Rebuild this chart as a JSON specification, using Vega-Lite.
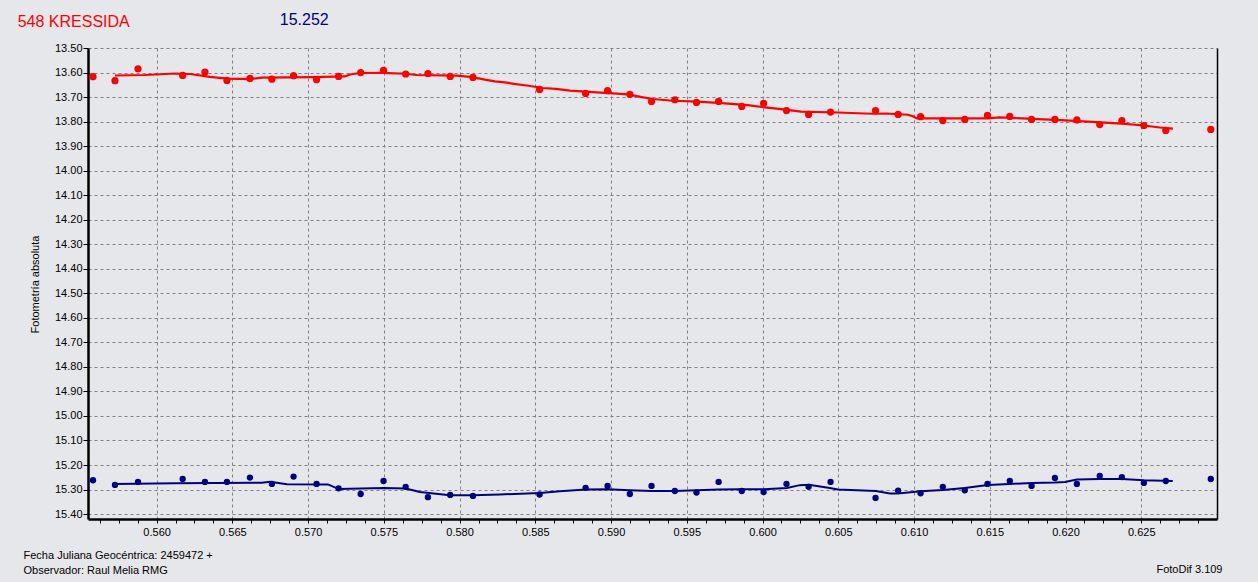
{
  "$schema": "https://vega.github.io/schema/vega-lite/v6.json",
  "width": 1129,
  "height": 471,
  "autosize": {"type": "none"},
  "padding": {"left": 88, "top": 48, "right": 41, "bottom": 63},
  "background": "#e6e7ea",
  "config": {"view": {"stroke": null}, "font": "Liberation Sans"},
  "title": {"text": "548 KRESSIDA", "color": "#ff0000", "font": "Liberation Sans", "fontSize": 16, "fontWeight": "normal", "anchor": "start", "frame": "group", "dx": -70.3, "baseline": "middle", "offset": -26.5},
  "datasets": {
    "red": [
      {"jd": 0.5558, "mag": 13.617}, {"jd": 0.55725, "mag": 13.633}, {"jd": 0.55877, "mag": 13.585}, {"jd": 0.56172, "mag": 13.612},
      {"jd": 0.56319, "mag": 13.598}, {"jd": 0.56464, "mag": 13.632}, {"jd": 0.56616, "mag": 13.624}, {"jd": 0.56761, "mag": 13.627},
      {"jd": 0.56904, "mag": 13.613}, {"jd": 0.57056, "mag": 13.629}, {"jd": 0.57201, "mag": 13.616}, {"jd": 0.57347, "mag": 13.600},
      {"jd": 0.57498, "mag": 13.591}, {"jd": 0.57644, "mag": 13.606}, {"jd": 0.57791, "mag": 13.604}, {"jd": 0.57938, "mag": 13.616},
      {"jd": 0.58088, "mag": 13.620}, {"jd": 0.58528, "mag": 13.669}, {"jd": 0.58832, "mag": 13.685}, {"jd": 0.58977, "mag": 13.674},
      {"jd": 0.59124, "mag": 13.689}, {"jd": 0.59267, "mag": 13.718}, {"jd": 0.59421, "mag": 13.711}, {"jd": 0.59564, "mag": 13.722},
      {"jd": 0.59710, "mag": 13.718}, {"jd": 0.59863, "mag": 13.738}, {"jd": 0.60007, "mag": 13.726}, {"jd": 0.60158, "mag": 13.755},
      {"jd": 0.60304, "mag": 13.771}, {"jd": 0.60449, "mag": 13.761}, {"jd": 0.60746, "mag": 13.755}, {"jd": 0.60895, "mag": 13.771},
      {"jd": 0.61043, "mag": 13.780}, {"jd": 0.61190, "mag": 13.796}, {"jd": 0.61335, "mag": 13.791}, {"jd": 0.61485, "mag": 13.775},
      {"jd": 0.61632, "mag": 13.779}, {"jd": 0.61776, "mag": 13.791}, {"jd": 0.61930, "mag": 13.791}, {"jd": 0.62075, "mag": 13.793},
      {"jd": 0.62226, "mag": 13.812}, {"jd": 0.62372, "mag": 13.796}, {"jd": 0.62517, "mag": 13.816}, {"jd": 0.62662, "mag": 13.836},
      {"jd": 0.62959, "mag": 13.832}
    ],
    "blue": [
      {"jd": 0.5558, "mag": 15.262}, {"jd": 0.55725, "mag": 15.281}, {"jd": 0.55877, "mag": 15.269}, {"jd": 0.56172, "mag": 15.257},
      {"jd": 0.56319, "mag": 15.269}, {"jd": 0.56464, "mag": 15.269}, {"jd": 0.56616, "mag": 15.251}, {"jd": 0.56761, "mag": 15.277},
      {"jd": 0.56904, "mag": 15.247}, {"jd": 0.57056, "mag": 15.277}, {"jd": 0.57201, "mag": 15.295}, {"jd": 0.57347, "mag": 15.318},
      {"jd": 0.57498, "mag": 15.265}, {"jd": 0.57644, "mag": 15.289}, {"jd": 0.57791, "mag": 15.331}, {"jd": 0.57938, "mag": 15.322},
      {"jd": 0.58088, "mag": 15.326}, {"jd": 0.58528, "mag": 15.320}, {"jd": 0.58832, "mag": 15.293}, {"jd": 0.58977, "mag": 15.285},
      {"jd": 0.59124, "mag": 15.318}, {"jd": 0.59267, "mag": 15.285}, {"jd": 0.59421, "mag": 15.306}, {"jd": 0.59564, "mag": 15.312},
      {"jd": 0.59710, "mag": 15.269}, {"jd": 0.59863, "mag": 15.306}, {"jd": 0.60007, "mag": 15.310}, {"jd": 0.60158, "mag": 15.277},
      {"jd": 0.60304, "mag": 15.289}, {"jd": 0.60449, "mag": 15.269}, {"jd": 0.60746, "mag": 15.334}, {"jd": 0.60895, "mag": 15.304},
      {"jd": 0.61043, "mag": 15.315}, {"jd": 0.61190, "mag": 15.289}, {"jd": 0.61335, "mag": 15.303}, {"jd": 0.61485, "mag": 15.277},
      {"jd": 0.61632, "mag": 15.265}, {"jd": 0.61776, "mag": 15.285}, {"jd": 0.61930, "mag": 15.253}, {"jd": 0.62075, "mag": 15.277},
      {"jd": 0.62226, "mag": 15.244}, {"jd": 0.62372, "mag": 15.249}, {"jd": 0.62517, "mag": 15.273}, {"jd": 0.62662, "mag": 15.265},
      {"jd": 0.62959, "mag": 15.257}
    ],
    "redFit": [
      {"jd": 0.55725, "mag": 13.612}, {"jd": 0.55923, "mag": 13.610}, {"jd": 0.56022, "mag": 13.607}, {"jd": 0.56121, "mag": 13.604},
      {"jd": 0.56220, "mag": 13.606}, {"jd": 0.56266, "mag": 13.610}, {"jd": 0.56352, "mag": 13.618}, {"jd": 0.56464, "mag": 13.625},
      {"jd": 0.56616, "mag": 13.627}, {"jd": 0.56695, "mag": 13.621}, {"jd": 0.56880, "mag": 13.620}, {"jd": 0.57032, "mag": 13.619},
      {"jd": 0.57243, "mag": 13.616}, {"jd": 0.57276, "mag": 13.608}, {"jd": 0.57342, "mag": 13.602}, {"jd": 0.57494, "mag": 13.601},
      {"jd": 0.57639, "mag": 13.605}, {"jd": 0.57718, "mag": 13.610}, {"jd": 0.57982, "mag": 13.613}, {"jd": 0.58068, "mag": 13.618},
      {"jd": 0.58134, "mag": 13.625}, {"jd": 0.58167, "mag": 13.629}, {"jd": 0.58233, "mag": 13.636}, {"jd": 0.58299, "mag": 13.640},
      {"jd": 0.58358, "mag": 13.646}, {"jd": 0.58444, "mag": 13.653}, {"jd": 0.58550, "mag": 13.663}, {"jd": 0.58636, "mag": 13.667},
      {"jd": 0.58728, "mag": 13.674}, {"jd": 0.58880, "mag": 13.680}, {"jd": 0.59012, "mag": 13.685}, {"jd": 0.59111, "mag": 13.689},
      {"jd": 0.59203, "mag": 13.700}, {"jd": 0.59276, "mag": 13.708}, {"jd": 0.59408, "mag": 13.715}, {"jd": 0.59573, "mag": 13.719},
      {"jd": 0.59751, "mag": 13.726}, {"jd": 0.59903, "mag": 13.733}, {"jd": 0.60015, "mag": 13.742}, {"jd": 0.60108, "mag": 13.748},
      {"jd": 0.60174, "mag": 13.753}, {"jd": 0.60253, "mag": 13.759}, {"jd": 0.60497, "mag": 13.763}, {"jd": 0.60722, "mag": 13.768},
      {"jd": 0.60820, "mag": 13.767}, {"jd": 0.60959, "mag": 13.772}, {"jd": 0.60992, "mag": 13.778}, {"jd": 0.61018, "mag": 13.787},
      {"jd": 0.61487, "mag": 13.787}, {"jd": 0.61566, "mag": 13.783}, {"jd": 0.61712, "mag": 13.787}, {"jd": 0.61857, "mag": 13.791},
      {"jd": 0.62002, "mag": 13.795}, {"jd": 0.62148, "mag": 13.800}, {"jd": 0.62372, "mag": 13.808}, {"jd": 0.62517, "mag": 13.816},
      {"jd": 0.62623, "mag": 13.824}, {"jd": 0.62709, "mag": 13.829}
    ],
    "blueFit": [
      {"jd": 0.55725, "mag": 15.277}, {"jd": 0.56121, "mag": 15.274}, {"jd": 0.56695, "mag": 15.272}, {"jd": 0.56748, "mag": 15.268},
      {"jd": 0.56860, "mag": 15.278}, {"jd": 0.57131, "mag": 15.279}, {"jd": 0.57203, "mag": 15.298}, {"jd": 0.57348, "mag": 15.296},
      {"jd": 0.57500, "mag": 15.294}, {"jd": 0.57645, "mag": 15.296}, {"jd": 0.57738, "mag": 15.310}, {"jd": 0.57936, "mag": 15.323},
      {"jd": 0.58088, "mag": 15.323}, {"jd": 0.58266, "mag": 15.320}, {"jd": 0.58530, "mag": 15.314}, {"jd": 0.58662, "mag": 15.307},
      {"jd": 0.58834, "mag": 15.300}, {"jd": 0.58979, "mag": 15.299}, {"jd": 0.59124, "mag": 15.303}, {"jd": 0.59269, "mag": 15.306},
      {"jd": 0.59421, "mag": 15.306}, {"jd": 0.59566, "mag": 15.303}, {"jd": 0.59711, "mag": 15.300}, {"jd": 0.59863, "mag": 15.299},
      {"jd": 0.60009, "mag": 15.299}, {"jd": 0.60161, "mag": 15.294}, {"jd": 0.60246, "mag": 15.282}, {"jd": 0.60306, "mag": 15.280},
      {"jd": 0.60444, "mag": 15.294}, {"jd": 0.60497, "mag": 15.300}, {"jd": 0.60748, "mag": 15.306}, {"jd": 0.60841, "mag": 15.316},
      {"jd": 0.60893, "mag": 15.316}, {"jd": 0.61045, "mag": 15.307}, {"jd": 0.61190, "mag": 15.302}, {"jd": 0.61335, "mag": 15.294},
      {"jd": 0.61487, "mag": 15.281}, {"jd": 0.61632, "mag": 15.277}, {"jd": 0.61778, "mag": 15.273}, {"jd": 0.61930, "mag": 15.271},
      {"jd": 0.61996, "mag": 15.269}, {"jd": 0.62075, "mag": 15.259}, {"jd": 0.62227, "mag": 15.257}, {"jd": 0.62372, "mag": 15.257},
      {"jd": 0.62517, "mag": 15.262}, {"jd": 0.62708, "mag": 15.265}
    ]
  },
  "resolve": {"axis": {"x": "independent", "y": "independent"}},
  "layer": [
    {
      "data": {"name": "redFit"},
      "mark": {"type": "line", "color": "#ff0000", "strokeWidth": 2.2, "interpolate": "linear"},
      "encoding": {
        "x": {
          "field": "jd", "type": "quantitative",
          "scale": {"domain": [0.55547, 0.63], "nice": false, "zero": false},
          "axis": {
            "orient": "bottom",
            "values": [0.55625, 0.5575, 0.55875, 0.56, 0.56125, 0.5625, 0.56375, 0.565, 0.56625, 0.5675, 0.56875, 0.57, 0.57125, 0.5725, 0.57375, 0.575, 0.57625, 0.5775, 0.57875, 0.58, 0.58125, 0.5825, 0.58375, 0.585, 0.58625, 0.5875, 0.58875, 0.59, 0.59125, 0.5925, 0.59375, 0.595, 0.59625, 0.5975, 0.59875, 0.6, 0.60125, 0.6025, 0.60375, 0.605, 0.60625, 0.6075, 0.60875, 0.61, 0.61125, 0.6125, 0.61375, 0.615, 0.61625, 0.6175, 0.61875, 0.62, 0.62125, 0.6225, 0.62375, 0.625, 0.62625, 0.6275, 0.62875],
            "labelExpr": "abs(datum.value*200 - round(datum.value*200)) < 0.01 ? format(datum.value, '.3f') : ''",
            "labelOverlap": false,
            "labelFlush": false,
            "labelFont": "Liberation Sans",
            "labelFontSize": 11,
            "labelColor": "#000000",
            "labelPadding": 3,
            "tickColor": "#000000",
            "tickSize": 4,
            "tickWidth": 1,
            "domainColor": "#000000",
            "domainWidth": 2.5,
            "grid": true,
            "gridColor": "#808080",
            "gridDash": [3, 3],
            "gridWidth": 1,
            "gridOpacity": {"condition": {"test": "abs(datum.value*200 - round(datum.value*200)) < 0.01", "value": 1}, "value": 0},
            "title": ["Fecha Juliana Geocéntrica: 2459472 +", "Observador: Raul Melia RMG"],
            "titleFont": "Liberation Sans",
            "titleFontSize": 11,
            "titleFontWeight": "normal",
            "titleColor": "#000000",
            "titleAlign": "left",
            "titleBaseline": "alphabetic",
            "titleLineHeight": 15,
            "titleX": -65,
            "titleY": 39
          }
        },
        "y": {
          "field": "mag", "type": "quantitative",
          "scale": {"domain": [13.5, 15.42], "nice": false, "zero": false, "reverse": true},
          "axis": {
            "orient": "left",
            "values": [13.5, 13.6, 13.7, 13.8, 13.9, 14.0, 14.1, 14.2, 14.3, 14.4, 14.5, 14.6, 14.7, 14.8, 14.9, 15.0, 15.1, 15.2, 15.3, 15.4],
            "format": ".2f",
            "labelOverlap": false,
            "labelFlush": false,
            "labelFont": "Liberation Sans",
            "labelFontSize": 11,
            "labelColor": "#000000",
            "labelPadding": 1,
            "tickColor": "#000000",
            "tickSize": 5,
            "tickWidth": 1,
            "domainColor": "#000000",
            "domainWidth": 2.5,
            "grid": true,
            "gridColor": "#808080",
            "gridDash": [3, 3],
            "gridWidth": 1,
            "title": "Fotometría absoluta",
            "titleFont": "Liberation Sans",
            "titleFontSize": 11,
            "titleFontWeight": "normal",
            "titleColor": "#000000",
            "titleAngle": 270,
            "titleAlign": "center",
            "titleBaseline": "middle",
            "titleX": -53,
            "titleY": 236
          }
        }
      }
    },
    {
      "data": {"name": "red"},
      "mark": {"type": "circle", "color": "#ff0000", "opacity": 1, "size": 52},
      "encoding": {
        "x": {"field": "jd", "type": "quantitative", "axis": null},
        "y": {"field": "mag", "type": "quantitative", "axis": null}
      }
    },
    {
      "data": {"name": "blueFit"},
      "mark": {"type": "line", "color": "#000080", "strokeWidth": 2, "interpolate": "linear"},
      "encoding": {
        "x": {"field": "jd", "type": "quantitative", "axis": null},
        "y": {"field": "mag", "type": "quantitative", "axis": null}
      }
    },
    {
      "data": {"name": "blue"},
      "mark": {"type": "circle", "color": "#000080", "opacity": 1, "size": 40},
      "encoding": {
        "x": {
          "field": "jd", "type": "quantitative",
          "axis": {
            "orient": "top", "domain": false, "ticks": false, "labels": false, "grid": false,
            "title": "15.252", "titleFont": "Liberation Sans", "titleFontSize": 16, "titleFontWeight": "normal",
            "titleColor": "#000080", "titleAlign": "left", "titleBaseline": "middle", "titleX": 191.3, "titleY": -29
          }
        },
        "y": {
          "field": "mag", "type": "quantitative",
          "axis": {
            "orient": "right", "domain": true, "domainColor": "#000000", "domainWidth": 1.5, "ticks": false, "labels": false, "grid": false,
            "title": "FotoDif 3.109", "titleFont": "Liberation Sans", "titleFontSize": 11, "titleFontWeight": "normal",
            "titleColor": "#000000", "titleAngle": 0, "titleAlign": "right", "titleBaseline": "middle", "titleX": 5, "titleY": 521.3
          }
        }
      }
    }
  ]
}
